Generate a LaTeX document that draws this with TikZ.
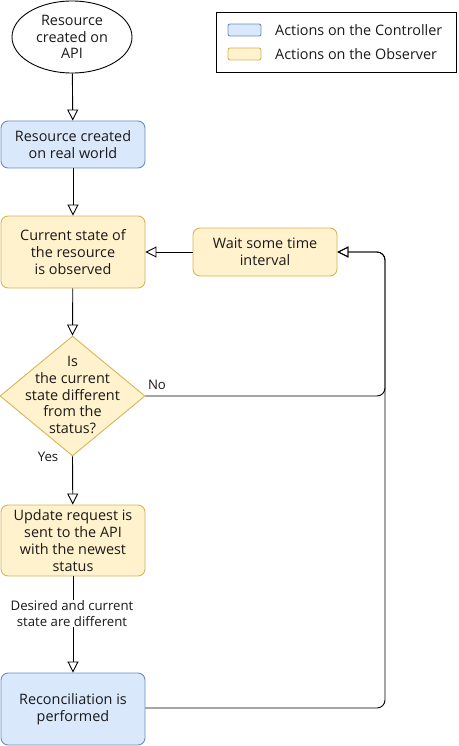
\documentclass[tikz,border=0pt]{standalone}
\usepackage{fontspec}
\setmainfont{Open Sans}
\usetikzlibrary{arrows.meta,shapes.geometric}
\definecolor{bfill}{HTML}{DAE8FC}
\definecolor{bline}{HTML}{6C8EBF}
\definecolor{yfill}{HTML}{FFF2CC}
\definecolor{yline}{HTML}{D6B656}
\definecolor{txt}{HTML}{1A1A1A}
\begin{document}
\begin{tikzpicture}[x=1pt,y=-1pt,
  every node/.style={font=\fontsize{14.4}{16.8}\selectfont, align=center, inner sep=0pt, text=txt},
  bluebox/.style={draw=bline, fill=bfill, rounded corners=7pt, line width=0.9pt, minimum width=144pt},
  yellowbox/.style={draw=yline, fill=yfill, rounded corners=7pt, line width=0.9pt, minimum width=144pt},
  conn/.style={draw, line width=0.9pt, -{Triangle[open,length=11pt,width=11pt]}},
  lbl/.style={font=\fontsize{13.2}{15.8}\selectfont}
]
\useasboundingbox (0,0) rectangle (458,746);
% nodes
\node[ellipse, draw, line width=0.9pt, minimum width=120pt, minimum height=72pt] (api) at (72,37) {Resource\\created on\\API};
\node[bluebox, minimum height=47pt] (real) at (73,144.5) {Resource created\\on real world};
\node[yellowbox, minimum height=72pt] (obs) at (73,252) {Current state of\\the resource\\is observed};
\node[yellowbox, minimum height=48pt] (wait) at (265,252) {Wait some time\\interval};
\node[diamond, draw=yline, fill=yfill, line width=0.9pt, minimum width=145pt, minimum height=120pt, aspect=1.2] (dec) at (72.5,396) {};
\node (dect) at (72.5,395) {Is\\the current\\state different\\from the\\status?};
\node[yellowbox, minimum height=71pt] (upd) at (73,540.5) {Update request is\\sent to the API\\with the newest\\status};
\node[bluebox, minimum height=72pt] (rec) at (73,709) {Reconciliation is\\performed};
% legend
\node[draw, line width=0.9pt, minimum width=240pt, minimum height=60pt] (leg) at (336,42) {};
\node[draw=bline, fill=bfill, rounded corners=2pt, line width=0.9pt, minimum width=33pt, minimum height=12pt] (lb) at (244.5,30) {};
\node[draw=yline, fill=yfill, rounded corners=2pt, line width=0.9pt, minimum width=33pt, minimum height=12pt] (ly) at (244.5,54) {};
\node[anchor=west] (lbt) at (275,30) {Actions on the Controller};
\node[anchor=west] (lyt) at (275,54) {Actions on the Observer};
% connectors
\coordinate (c1) at (385,396);
\coordinate (c2) at (385,252);
\coordinate (c3) at (385,708);
\draw[conn] (api) -- (real);
\draw[conn] (real) -- (obs);
\draw[conn] (obs) -- (dec.north);
\draw[conn] (dec.south) -- (upd);
\node[lbl] (yes) at (48,457) {Yes};
\draw[conn] (upd) -- (rec);
\node[lbl, fill=white, inner sep=1pt] (dc) at (72,613.5) {Desired and current\\state are different};
\draw[conn, rounded corners=8pt] (dec.east) -- (c1) -- (c2) -- (wait.east);
\node[lbl] (no) at (157,385) {No};
\draw[conn, rounded corners=8pt] (rec.east |- c3) -- (c3) -- (c2) -- (wait.east);
\draw[conn] (wait) -- (obs);
\end{tikzpicture}
\end{document}
